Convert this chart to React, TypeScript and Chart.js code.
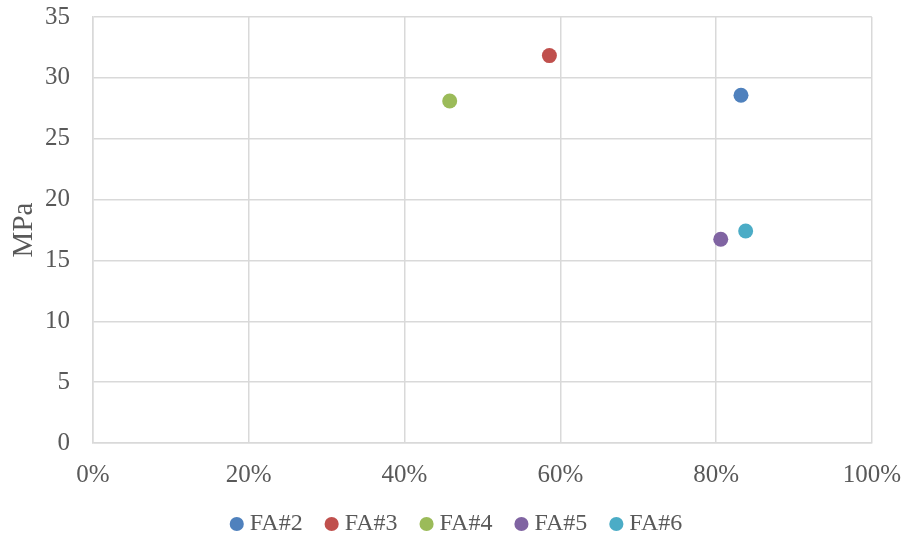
import React, { useEffect, useRef } from "react";
import { Chart, registerables } from "chart.js";

Chart.register(...registerables);

// Mix share (x) vs compressive strength in MPa (y)
const seriesNames = ["FA#2", "FA#3", "FA#4", "FA#5", "FA#6"];
const seriesX = [0.832, 0.586, 0.458, 0.806, 0.838];
const seriesY = [28.57, 31.83, 28.1, 16.74, 17.42];
const seriesColors = ["#4f81bd", "#c0504d", "#9bbb59", "#8064a2", "#4bacc6"];

const xTicks = [0, 0.2, 0.4, 0.6, 0.8, 1];
const yTicks = [0, 5, 10, 15, 20, 25, 30, 35];

const FONT = "'Liberation Serif', serif";
const TEXT = "#595959";
const GRID = "#d9d9d9";
const CLEAR = "rgba(0,0,0,0)";

// left padding offsets the full-width legend; the y axis box is narrowed to compensate
const PAD_LEFT = 46;
const PLOT_LEFT = 93;

export default function App() {
  const ref = useRef<HTMLCanvasElement | null>(null);

  useEffect(() => {
    if (!ref.current) return;
    const chart = new Chart(ref.current, {
      type: "scatter",
      data: {
        datasets: seriesNames.map((name, i) => ({
          label: name,
          data: [{ x: seriesX[i], y: seriesY[i] }],
          backgroundColor: seriesColors[i],
          borderColor: seriesColors[i],
          pointRadius: 7.5,
          pointHoverRadius: 7.5,
          borderWidth: 0,
        })),
      },
      options: {
        animation: false,
        responsive: false,
        layout: { autoPadding: false, padding: { top: 0, right: 34, left: PAD_LEFT, bottom: 0 } },
        plugins: {
          tooltip: { enabled: false },
          legend: {
            position: "bottom",
            maxHeight: 55,
            labels: {
              usePointStyle: true,
              pointStyle: "circle",
              boxWidth: 2,
              boxHeight: 10,
              padding: 28,
              color: TEXT,
              font: { family: FONT, size: 24 },
            },
          },
        },
        scales: {
          x: {
            type: "linear",
            min: 0,
            max: 1,
            afterBuildTicks: (s: any) => {
              s.ticks = xTicks.map((v) => ({ value: v }));
            },
            afterFit: (s: any) => {
              s.height = 41;
            },
            grid: { color: GRID, lineWidth: 1.5, drawTicks: true, tickLength: 12, tickColor: CLEAR },
            border: { color: GRID, width: 1.5 },
            ticks: {
              color: TEXT,
              font: { family: FONT, size: 25 },
              padding: 5,
              callback: (v: any) => `${Math.round(Number(v) * 100)}%`,
            },
          },
          y: {
            type: "linear",
            min: 0,
            max: 35,
            afterBuildTicks: (s: any) => {
              s.ticks = yTicks.map((v) => ({ value: v }));
            },
            afterFit: (s: any) => {
              s.width = PLOT_LEFT - PAD_LEFT;
            },
            grid: { color: GRID, lineWidth: 1.5, drawTicks: true, tickLength: 21, tickColor: CLEAR },
            border: { color: GRID, width: 1.5 },
            title: {
              display: true,
              text: "MPa",
              color: TEXT,
              font: { family: FONT, size: 29, weight: "normal" },
              padding: { top: 24 - PAD_LEFT - 17, bottom: 0 },
            },
            ticks: {
              color: TEXT,
              font: { family: FONT, size: 25 },
              padding: 2,
            },
          },
        },
      },
    });
    return () => chart.destroy();
  }, []);

  return (
    <div style={{ position: "absolute", left: 0, top: 0, width: 906, height: 539, background: "#fff" }}>
      <canvas ref={ref} width={906} height={539} />
    </div>
  );
}
